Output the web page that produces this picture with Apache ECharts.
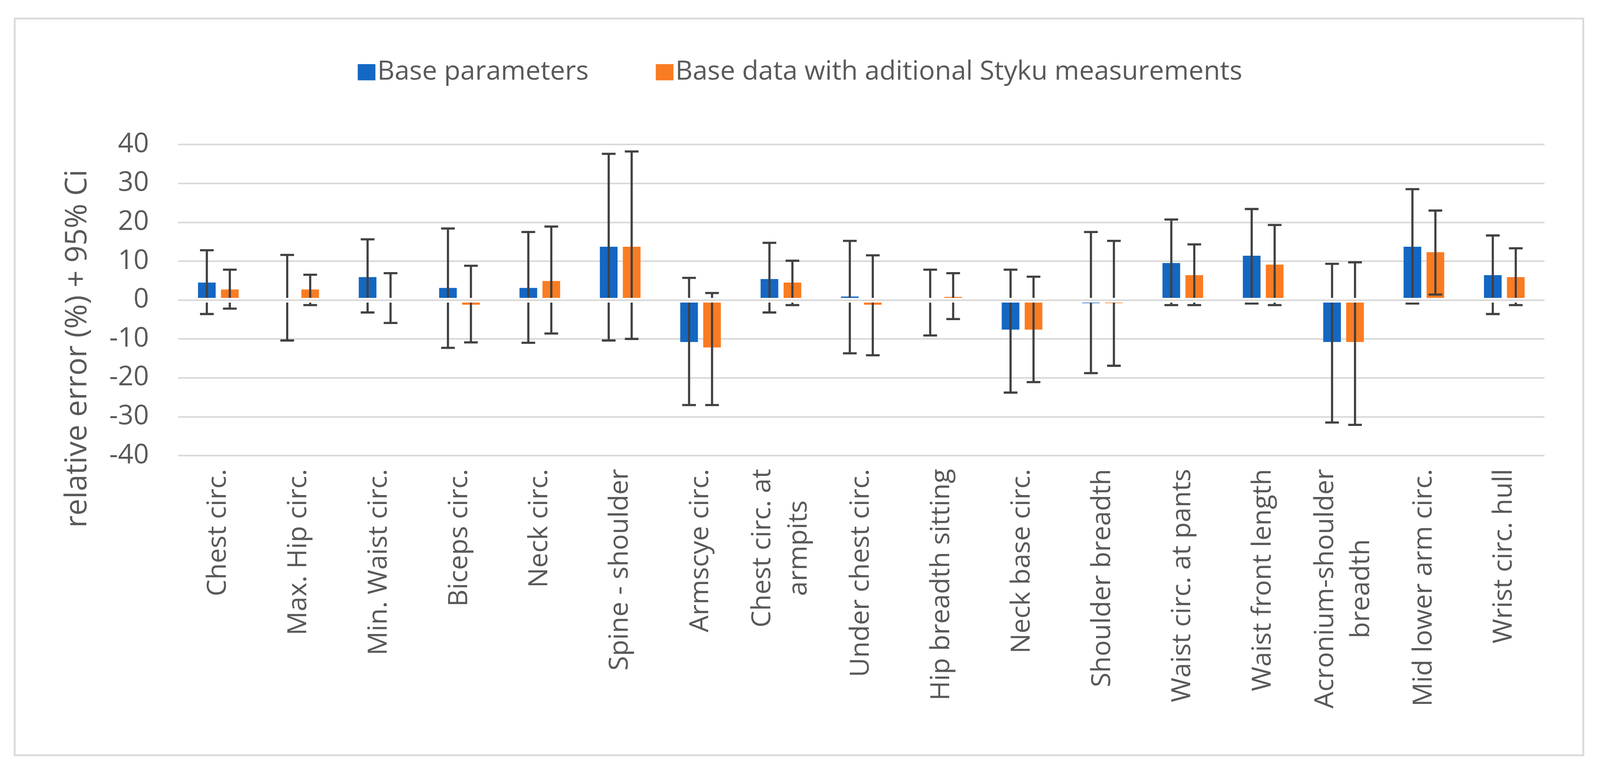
<!DOCTYPE html>
<html>
<head>
<meta charset="utf-8">
<script src="https://cdn.jsdelivr.net/npm/echarts@6/dist/echarts.min.js"></script>
<style>
html,body{margin:0;padding:0;background:#fff;overflow:hidden;width:100%;height:100%;}
#chart{width:100vw;height:100vh;}
</style>
</head>
<body>
<div id="chart"></div>
<script>
const categories = ['Chest circ.','Max. Hip circ.','Min. Waist circ.','Biceps circ.','Neck circ.','Spine - shoulder','Armscye circ.','Chest circ. at\narmpits','Under chest circ.','Hip breadth sitting','Neck base circ.','Shoulder breadth','Waist circ. at pants','Waist front length','Acronium-shoulder\nbreadth','Mid lower arm circ.','Wrist circ. hull'];
const seriesNames = ['Base parameters','Base data with aditional Styku measurements'];
const baseValues = [4.5, 0.5, 5.9, 3.1, 3.1, 13.7, -10.8, 5.4, 0.9, -0.3, -7.6, -0.8, 9.5, 11.4, -10.8, 13.7, 6.4];
const baseLow    = [-3.6, -10.4, -3.2, -12.3, -11.0, -10.4, -27.0, -3.2, -13.7, -9.1, -23.8, -18.8, -1.3, -0.9, -31.5, -0.9, -3.6];
const baseHigh   = [12.8, 11.6, 15.6, 18.4, 17.5, 37.6, 5.7, 14.7, 15.2, 7.8, 7.8, 17.5, 20.7, 23.4, 9.3, 28.5, 16.6];
const stykuValues = [2.7, 2.7, 0.2, -1.2, 4.9, 13.7, -12.2, 4.5, -1.2, 0.8, -7.6, -0.8, 6.4, 9.1, -10.8, 12.3, 5.9];
const stykuLow    = [-2.2, -1.3, -5.9, -10.9, -8.6, -10.0, -27.0, -1.3, -14.2, -4.9, -21.1, -16.9, -1.3, -1.3, -32.1, 1.4, -1.3];
const stykuHigh   = [7.8, 6.5, 6.9, 8.8, 18.9, 38.2, 1.8, 10.1, 11.5, 6.9, 6.0, 15.2, 14.3, 19.3, 9.7, 23.0, 13.3];
const yTicks = {min: -40, max: 40, interval: 10};
const yTitle = 'relative error (%) + 95% Ci';

const BLUE = '#1467c2', ORANGE = '#fa7c22', ERR = '#404040', GRID = '#d9d9d9', TXT = '#595959';
const FONT = '"Open Sans", "Segoe UI", sans-serif';

// layout scale relative to the 4437x1980 design
const el = document.getElementById('chart');
const W = el.clientWidth || window.innerWidth || 4437;
const H = el.clientHeight || window.innerHeight || 1980;
const sx = W / 4437, sy = H / 1980, s = Math.min(sx, sy);

const BAR_W = 49 * sx, GAP_RATIO = 0.3, OFF = BAR_W * (1 + GAP_RATIO) / 2, CAP = 38 * sx;
const LW = 6 * s;

function errRender(sign) {
  return function (params, api) {
    const i = api.value(0);
    const pLo = api.coord([i, api.value(1)]);
    const pHi = api.coord([i, api.value(2)]);
    const x = pLo[0] + sign * OFF;
    const st = {stroke: ERR, lineWidth: LW};
    return {
      type: 'group',
      children: [
        {type: 'line', shape: {x1: x, y1: pLo[1], x2: x, y2: pHi[1]}, style: st},
        {type: 'line', shape: {x1: x - CAP / 2, y1: pHi[1], x2: x + CAP / 2, y2: pHi[1]}, style: st},
        {type: 'line', shape: {x1: x - CAP / 2, y1: pLo[1], x2: x + CAP / 2, y2: pLo[1]}, style: st}
      ]
    };
  };
}

const chart = echarts.init(el, null, {renderer: 'canvas', width: W, height: H});
chart.setOption({
  backgroundColor: '#fff',
  animation: false,
  graphic: [
    {type: 'rect', left: 38 * sx, top: 45 * sy, shape: {width: 4350 * sx, height: 1887 * sy},
     style: {fill: 'none', stroke: GRID, lineWidth: 5 * s}, z: -1},
    {type: 'text', x: 216 * sx, y: 893 * sy, rotation: Math.PI / 2,
     style: {text: yTitle, font: (83 * s) + 'px ' + FONT, fill: TXT, textAlign: 'center', textVerticalAlign: 'middle'}}
  ],
  legend: {
    data: seriesNames,
    left: 'center',
    top: 146 * sy,
    icon: 'rect',
    itemWidth: 49 * s,
    itemHeight: 45 * s,
    itemGap: 186 * sx,
    textStyle: {fontSize: 74 * s, color: TXT, fontFamily: FONT}
  },
  grid: {left: 494 * sx, right: 154 * sx, top: 370 * sy, bottom: 813 * sy, containLabel: false},
  xAxis: {
    type: 'category',
    data: categories,
    z: 4,
    axisLine: {show: true, onZero: true, lineStyle: {color: '#ffffff', width: 13 * s}},
    axisTick: {show: false},
    axisLabel: {
      interval: 0,
      rotate: 90,
      margin: 34 * sy,
      color: TXT,
      fontSize: 74 * s,
      fontFamily: FONT,
      formatter: function (v) { return v.split('\n').map(t => '{c|' + t + '}').join('\n'); },
      rich: {c: {align: 'center', fontSize: 74 * s, fontFamily: FONT, color: TXT, lineHeight: 100 * s}}
    }
  },
  yAxis: {
    type: 'value',
    min: yTicks.min, max: yTicks.max, interval: yTicks.interval,
    axisLine: {show: false},
    axisTick: {show: false},
    splitLine: {lineStyle: {color: GRID, width: 4.5 * s}},
    axisLabel: {margin: 81 * sx, color: TXT, fontSize: 75 * s, fontFamily: FONT}
  },
  series: [
    {name: seriesNames[0], type: 'bar', data: baseValues, barWidth: BAR_W, barGap: (GAP_RATIO * 100) + '%',
     itemStyle: {color: BLUE},
     markLine: {silent: true, symbol: 'none', z: 5, label: {show: false},
       lineStyle: {color: GRID, width: 4.5 * s, type: 'solid'}, data: [{yAxis: 0}]}},
    {name: seriesNames[1], type: 'bar', data: stykuValues, barWidth: BAR_W, barGap: (GAP_RATIO * 100) + '%',
     itemStyle: {color: ORANGE}},
    {type: 'custom', name: 'errBase', z: 3, renderItem: errRender(-1),
     data: baseLow.map((l, i) => [i, l, baseHigh[i]]), encode: {x: 0, y: [1, 2]}},
    {type: 'custom', name: 'errStyku', z: 3, renderItem: errRender(1),
     data: stykuLow.map((l, i) => [i, l, stykuHigh[i]]), encode: {x: 0, y: [1, 2]}}
  ]
});
</script>
</body>
</html>
